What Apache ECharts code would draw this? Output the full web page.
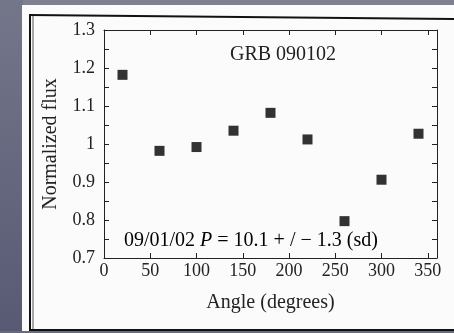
<!DOCTYPE html>
<html>
<head>
<meta charset="utf-8">
<script src="https://cdn.jsdelivr.net/npm/echarts@6/dist/echarts.min.js"></script>
<style>
  html, body { margin: 0; padding: 0; background: #7d7e8c; }
  #chart { width: 454px; height: 333px; }
</style>
</head>
<body>
<div id="chart"></div>
<script>
// angle (degrees) and normalized flux
var angles = [20, 60, 100, 140, 180, 220, 260, 300, 340];
var flux = [1.182, 0.982, 0.992, 1.035, 1.082, 1.012, 0.797, 0.906, 1.027];
var xTicks = [0, 50, 100, 150, 200, 250, 300, 350];
var yTicks = [0.7, 0.8, 0.9, 1, 1.1, 1.2, 1.3];

var serif = '"Liberation Serif", "DejaVu Serif", serif';
var ink = '#222';

var points = angles.map(function (a, i) { return [a, flux[i]]; });

var chart = echarts.init(document.getElementById('chart'));
var option = {
  backgroundColor: 'transparent',
  animation: false,
  graphic: [
    // photo background: grey top strip, darker slate band on the left
    { type: 'rect', z: -10, silent: true, shape: { x: 0, y: 0, width: 454, height: 333 },
      style: { fill: '#80818e' } },
    { type: 'rect', z: -9, silent: true, shape: { x: 0, y: 0, width: 23, height: 333 },
      style: { fill: new echarts.graphic.LinearGradient(0, 0, 0, 1, [
        { offset: 0, color: '#74768a' }, { offset: 1, color: '#585a74' }]) } },
    { type: 'rect', z: -8, silent: true, shape: { x: 22, y: 5, width: 432, height: 328 },
      style: { fill: '#fbfbfb' } },
    // black frame of the figure
    { type: 'line', z: -7, silent: true, shape: { x1: 30, y1: 14, x2: 30, y2: 331 },
      style: { stroke: '#111', lineWidth: 2 } },
    { type: 'line', z: -7, silent: true, shape: { x1: 33, y1: 16, x2: 33, y2: 329 },
      style: { stroke: '#555', lineWidth: 1 } },
    { type: 'line', z: -7, silent: true, shape: { x1: 29, y1: 15, x2: 454, y2: 19 },
      style: { stroke: '#111', lineWidth: 2 } },
    { type: 'line', z: -7, silent: true, shape: { x1: 29, y1: 330, x2: 454, y2: 330 },
      style: { stroke: '#111', lineWidth: 2 } },
    { type: 'rect', z: -7, silent: true, shape: { x: 0, y: 331, width: 454, height: 2 },
      style: { fill: '#6a6b7a' } },
    // annotations
    { type: 'text', left: 230, top: 45, style: {
        text: 'GRB 090102', font: '20px ' + serif, fill: ink } },
    { type: 'text', left: 124, top: 231, style: {
        text: '{n|09/01/02 }{i|P}{n| = 10.1 + / − 1.3 (sd)}',
        rich: {
          n: { fontFamily: serif, fontSize: 20, color: ink },
          i: { fontFamily: serif, fontSize: 20, fontStyle: 'italic', color: ink }
        } } }
  ],
  grid: { left: 104, right: 17, top: 30, bottom: 75, containLabel: false },
  xAxis: [
    {
      type: 'value', min: 0, max: 360, interval: 50,
      name: 'Angle (degrees)', nameLocation: 'middle', nameGap: 35,
      nameTextStyle: { fontFamily: serif, fontSize: 20, color: ink },
      axisLine: { show: true, onZero: false, lineStyle: { color: ink, width: 1 } },
      axisTick: { inside: true, length: 5, lineStyle: { color: ink } },
      axisLabel: { fontFamily: serif, fontSize: 18, color: ink, margin: 4,
        customValues: xTicks },
      splitLine: { show: false }
    },
    {
      type: 'value', position: 'top', min: 0, max: 360, interval: 50,
      axisLine: { show: true, onZero: false, lineStyle: { color: ink, width: 1 } },
      axisTick: { inside: true, length: 5, lineStyle: { color: ink } },
      axisLabel: { show: false },
      splitLine: { show: false }
    }
  ],
  yAxis: [
    {
      type: 'value', min: 0.7, max: 1.3, interval: 0.1,
      name: 'Normalized flux', nameLocation: 'middle', nameGap: 43,
      nameTextStyle: { fontFamily: serif, fontSize: 20, color: ink },
      axisLine: { show: true, onZero: false, lineStyle: { color: ink, width: 1 } },
      axisTick: { inside: true, length: 5, lineStyle: { color: ink } },
      minorTick: { show: true, splitNumber: 2, length: 5, lineStyle: { color: ink } },
      axisLabel: { fontFamily: serif, fontSize: 18, color: ink, margin: 9,
        customValues: yTicks,
        formatter: function (v) { return String(Math.round(v * 10) / 10); } },
      splitLine: { show: false }
    },
    {
      type: 'value', position: 'right', min: 0.7, max: 1.3, interval: 0.1,
      axisLine: { show: true, onZero: false, lineStyle: { color: ink, width: 1 } },
      axisTick: { inside: true, length: 5, lineStyle: { color: ink } },
      minorTick: { show: true, splitNumber: 2, length: 5, lineStyle: { color: ink } },
      axisLabel: { show: false },
      splitLine: { show: false }
    }
  ],
  series: [
    {
      type: 'scatter',
      data: points,
      symbol: 'rect',
      symbolSize: 10,
      itemStyle: { color: '#000' }
    }
  ]
};
chart.setOption(option);
</script>
</body>
</html>
